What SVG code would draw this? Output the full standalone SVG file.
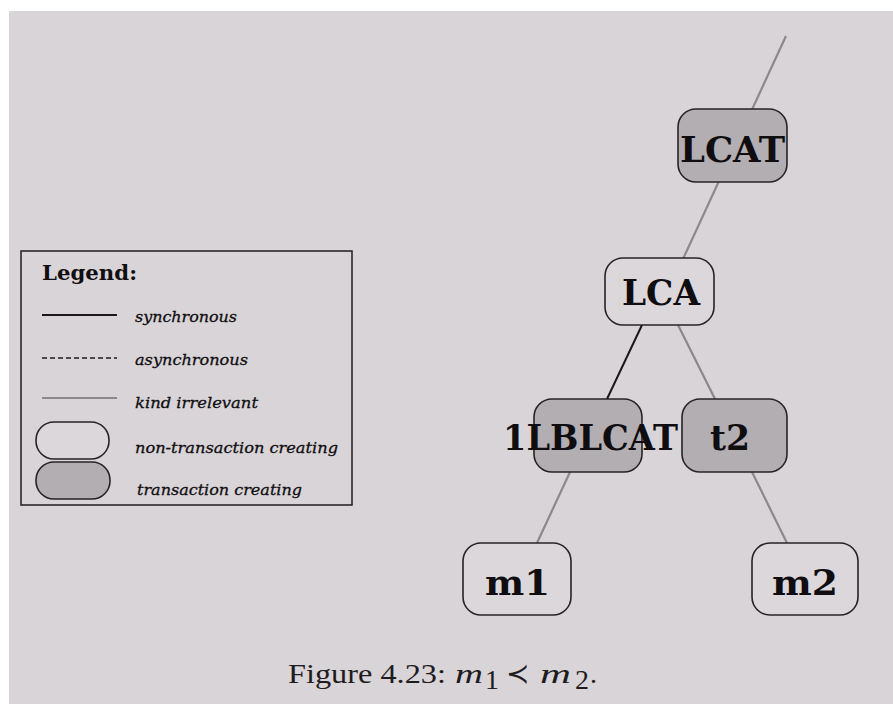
<svg xmlns="http://www.w3.org/2000/svg" width="893" height="704" viewBox="0 0 893 704">
  <defs>
    <style>
      .page { fill: #d9d4d8; }
      .node { stroke: #262426; stroke-width: 1.6; }
      .plain { fill: #dcd7db; }
      .tx { fill: #b2aeb2; }
      .label { font-family: "DejaVu Serif", "Liberation Serif", serif; font-weight: bold; font-size: 36px; fill: #0f0d0f; }
      .sync { stroke: #1a181a; stroke-width: 2; fill: none; }
      .async { stroke: #1a181a; stroke-width: 1.6; stroke-dasharray: 5 3; fill: none; }
      .any { stroke: #8c888c; stroke-width: 2.2; fill: none; }
      .legend-title { font-family: "DejaVu Serif", "Liberation Serif", serif; font-weight: bold; font-size: 21px; fill: #100e10; }
      .legend-text { font-family: "DejaVu Serif", "Liberation Serif", serif; font-style: italic; font-size: 15.5px; fill: #100e10; stroke: #100e10; stroke-width: 0.3; }
      .caption { font-family: "Liberation Serif", "DejaVu Serif", serif; font-size: 28px; fill: #1e1c1e; }
    </style>
  </defs>

  <!-- paper -->
  <rect x="0" y="0" width="893" height="704" fill="#ffffff"/>
  <rect class="page" x="9" y="11" width="884" height="693"/>

  <!-- legend -->
  <g id="legend">
    <rect x="21" y="251" width="331" height="254" fill="none" stroke="#1e1c1e" stroke-width="1.5"/>
    <text class="legend-title" x="42" y="280" textLength="95" lengthAdjust="spacingAndGlyphs">Legend:</text>
    <line class="sync" x1="42" y1="315" x2="117" y2="315" stroke-width="1.6"/>
    <text class="legend-text" x="135" y="322" textLength="102" lengthAdjust="spacingAndGlyphs">synchronous</text>
    <line class="async" x1="42" y1="358" x2="117" y2="358"/>
    <text class="legend-text" x="135" y="365" textLength="113" lengthAdjust="spacingAndGlyphs">asynchronous</text>
    <line class="any" x1="42" y1="398" x2="117" y2="398"/>
    <text class="legend-text" x="135" y="408" textLength="123" lengthAdjust="spacingAndGlyphs">kind irrelevant</text>
    <rect class="node plain" x="36" y="422" width="73" height="37" rx="18" ry="18"/>
    <text class="legend-text" x="135" y="453" textLength="203" lengthAdjust="spacingAndGlyphs">non-transaction creating</text>
    <rect class="node tx" x="36" y="462" width="74" height="37" rx="18" ry="18"/>
    <text class="legend-text" x="137" y="495" textLength="165" lengthAdjust="spacingAndGlyphs">transaction creating</text>
  </g>

  <!-- connectors -->
  <g id="connectors">
    <line class="any" x1="786" y1="36" x2="683" y2="259"/>
    <line class="sync" x1="642" y1="325" x2="607" y2="399"/>
    <line class="any" x1="678" y1="325" x2="715" y2="399"/>
    <line class="any" x1="570" y1="472" x2="537" y2="543"/>
    <line class="any" x1="752" y1="472" x2="787" y2="543"/>
  </g>

  <!-- nodes -->
  <g id="node-lcat">
    <rect class="node tx" x="678" y="109" width="109" height="73" rx="18" ry="18"/>
    <text class="label" x="680" y="162" textLength="105" lengthAdjust="spacingAndGlyphs">LCAT</text>
  </g>
  <g id="node-lca">
    <rect class="node plain" x="605" y="258" width="109" height="67" rx="18" ry="18"/>
    <text class="label" x="622" y="305" textLength="78" lengthAdjust="spacingAndGlyphs" font-size="33">LCA</text>
  </g>
  <g id="node-1lblcat">
    <rect class="node tx" x="534" y="399" width="108" height="73" rx="18" ry="18"/>
    <text class="label" x="503" y="450" textLength="175" lengthAdjust="spacingAndGlyphs">1LBLCAT</text>
  </g>
  <g id="node-t2">
    <rect class="node tx" x="682" y="399" width="105" height="73" rx="18" ry="18"/>
    <text class="label" x="710" y="450" textLength="40" lengthAdjust="spacingAndGlyphs">t2</text>
  </g>
  <g id="node-m1">
    <rect class="node plain" x="463" y="543" width="108" height="72" rx="18" ry="18"/>
    <text class="label" x="485" y="595" textLength="65" lengthAdjust="spacingAndGlyphs">m1</text>
  </g>
  <g id="node-m2">
    <rect class="node plain" x="752" y="543" width="106" height="72" rx="18" ry="18"/>
    <text class="label" x="772" y="595" textLength="66" lengthAdjust="spacingAndGlyphs">m2</text>
  </g>

  <!-- caption -->
  <g id="caption">
    <text class="caption" x="288" y="683" textLength="158" lengthAdjust="spacingAndGlyphs">Figure 4.23:</text>
    <text class="caption" x="455" y="683" font-style="italic" textLength="28" lengthAdjust="spacingAndGlyphs">m</text>
    <text class="caption" x="485" y="689" font-size="17">1</text>
    <text class="caption" x="506" y="683" font-family="DejaVu Serif, serif" font-size="24">≺</text>
    <text class="caption" x="540" y="683" font-style="italic" textLength="31" lengthAdjust="spacingAndGlyphs">m</text>
    <text class="caption" x="575" y="689" font-size="17">2</text>
    <text class="caption" x="590" y="683">.</text>
  </g>
</svg>
